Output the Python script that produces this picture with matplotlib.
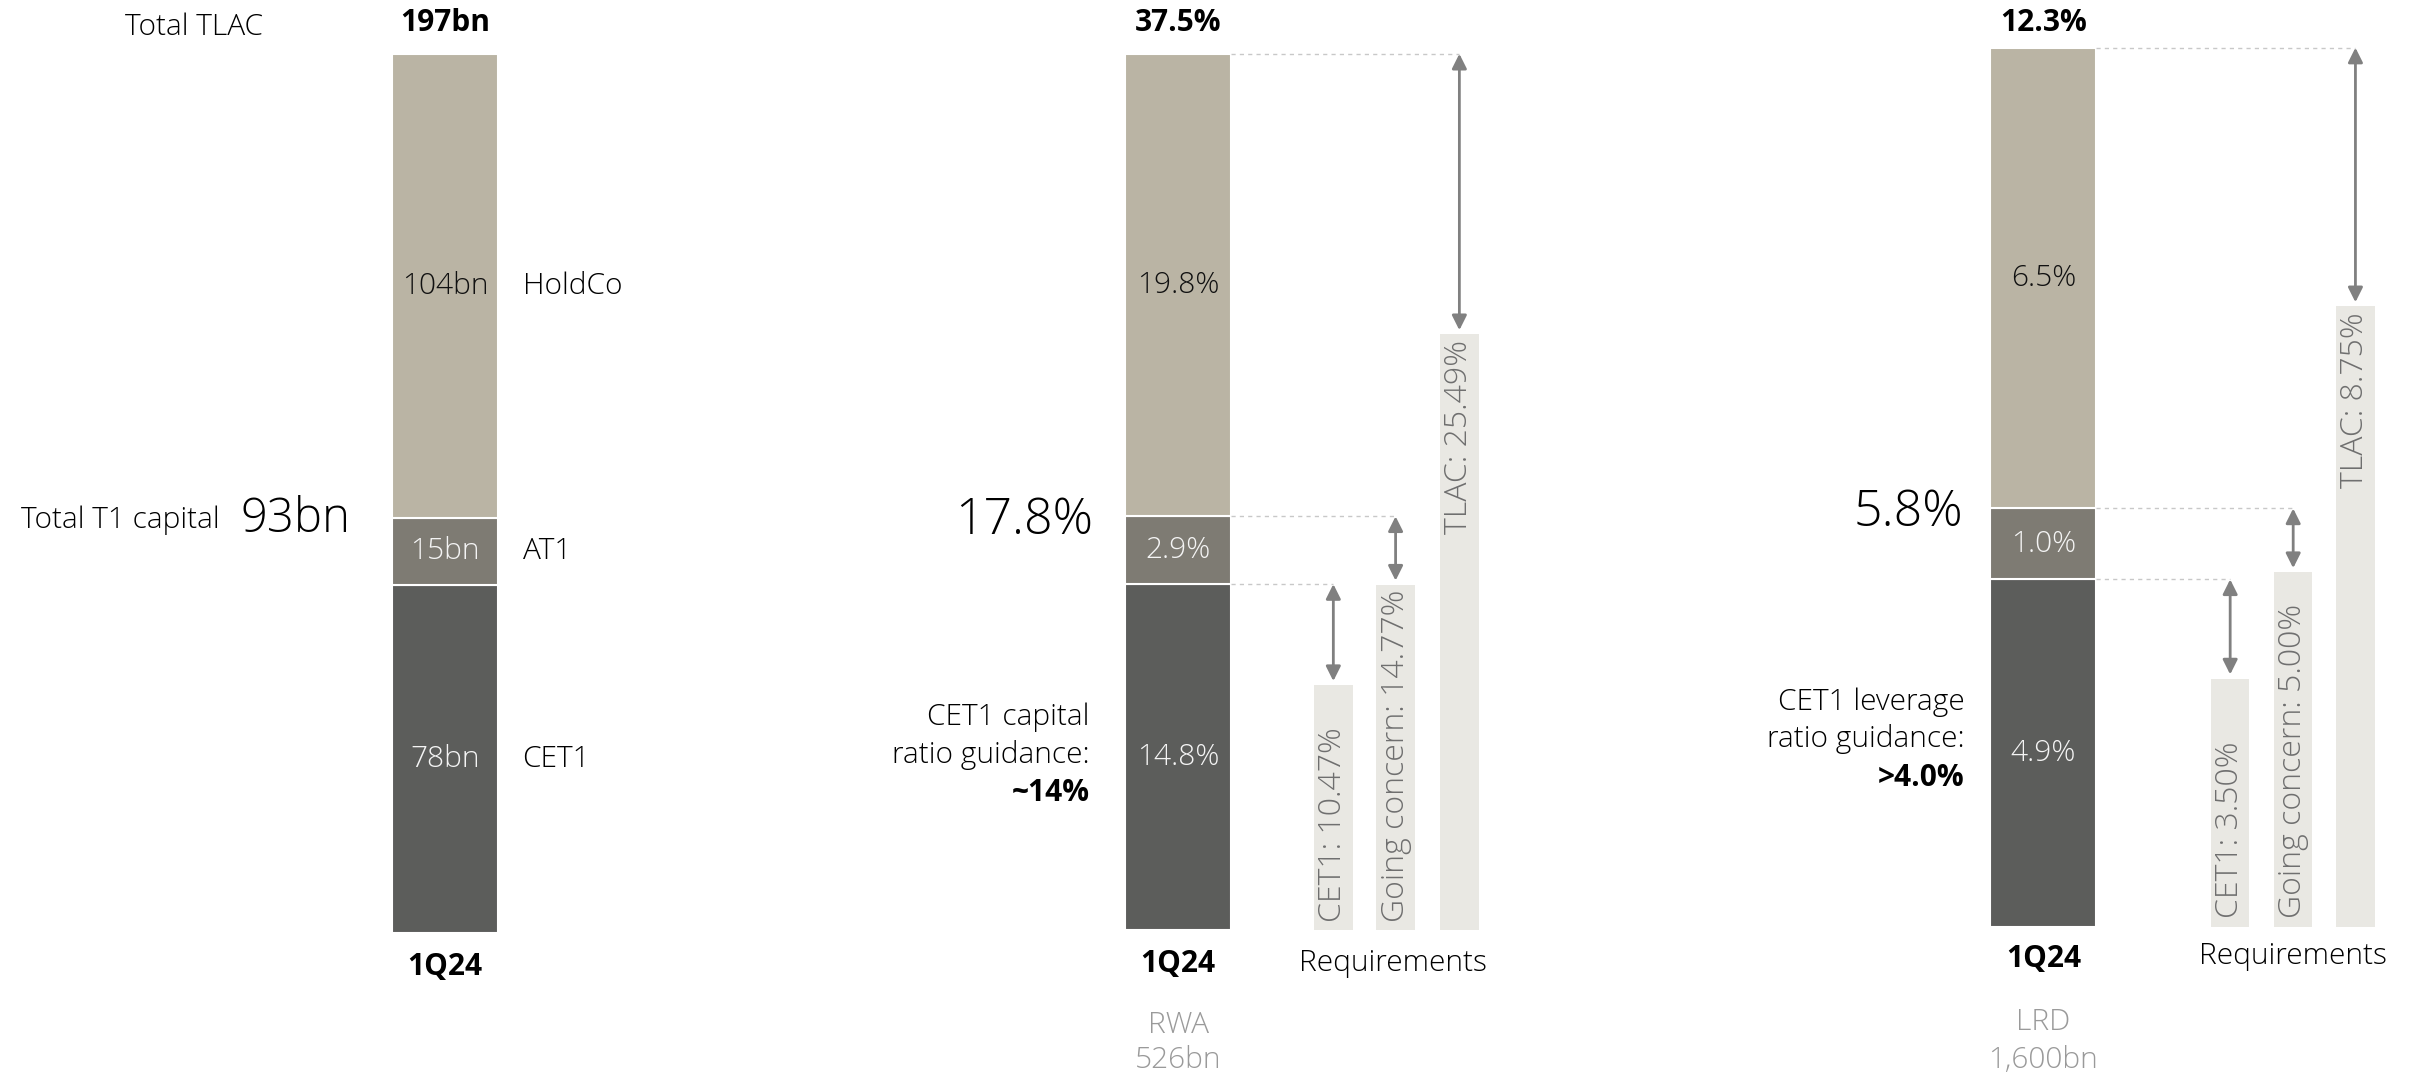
import matplotlib.pyplot as plt

plt.rcParams['font.family'] = ['Open Sans', 'DejaVu Sans']

# Left: TLAC composition (bn)
tlac_labels = ['CET1', 'AT1', 'HoldCo']
tlac_bn = [78, 15, 104]
tlac_total = 197
t1_total = 93

# Middle: ratios on RWA (%)
rwa_ratio = [14.8, 2.9, 19.8]
rwa_total = 37.5
rwa_t1 = 17.8
rwa_req = [10.47, 14.77, 25.49]
rwa_bn = 526

# Right: ratios on leverage ratio denominator (%)
lrd_ratio = [4.9, 1.0, 6.5]
lrd_total = 12.3
lrd_t1 = 5.8
lrd_req = [3.50, 5.00, 8.75]
lrd_bn = '1,600'

req_names = ['CET1', 'Going concern', 'TLAC']
period = '1Q24'

seg_colors = ['#5c5d5b', '#7e7b73', '#bab4a4']
seg_text = ['#f4f4f4', '#f4f4f4', '#111111']
req_color = '#e9e8e3'
arrow_color = '#808080'
dash_color = '#c8c8c8'
grey_text = '#9a9a9a'
req_text = '#6f6f6f'

FS = 21.5
FS_BIG = 36
FS_REQ = 23
LW = 'light'

W, H = 1568, 704
fig = plt.figure(figsize=(24.1, 10.82), dpi=100)

# overlay axes for free-standing text, in layout units (y down)
lay = fig.add_axes([0, 0, 1, 1])
lay.set_xlim(0, W)
lay.set_ylim(H, 0)
lay.axis('off')


def panel(base_px, top_px, total):
    ax = fig.add_axes([0, 0, 1, 1])
    b = 1 - base_px / H
    t = 1 - top_px / H
    k = total / (t - b)
    ax.set_xlim(0, W)
    ax.set_ylim(-b * k, (1 - b) * k)
    ax.axis('off')
    return ax


def stacked(ax, x, vals, labels, w=69):
    bottom = 0
    for v, lab, c, tc in zip(vals, labels, seg_colors, seg_text):
        ax.bar(x, v, bottom=bottom, width=w, color=c, edgecolor='white', linewidth=1.5)
        ax.text(x, bottom + v / 2, lab, ha='center', va='center', color=tc,
                fontsize=FS, fontweight=LW)
        bottom += v
    return x + w / 2


def requirements(ax, xs, reqs, levels, bar_right):
    for x, r, name, lvl in zip(xs, reqs, req_names, levels):
        ax.bar(x, r, width=25, color=req_color)
        txt = f'{name}: {r:.2f}%'
        if name == 'TLAC':
            ax.annotate(txt, (x, r), xytext=(0, -4), textcoords='offset points',
                        rotation=90, ha='center', va='top', color=req_text,
                        fontsize=FS_REQ, fontweight=LW)
        else:
            ax.annotate(txt, (x, 0), xytext=(0, 6), textcoords='offset points',
                        rotation=90, ha='center', va='bottom', color=req_text,
                        fontsize=FS_REQ, fontweight=LW)
        ax.plot([bar_right, x], [lvl, lvl], ls=(0, (3, 3)), color=dash_color, lw=1)
        ax.annotate('', xy=(x, r), xytext=(x, lvl),
                    arrowprops=dict(arrowstyle='<|-|>', color=arrow_color, lw=2,
                                    mutation_scale=22, shrinkA=0, shrinkB=3))


# ---- left panel ----
ax1 = panel(607, 35, sum(tlac_bn))
stacked(ax1, 289.5, tlac_bn, [f'{v}bn' for v in tlac_bn])
for v, lab, bottom in zip(tlac_bn, tlac_labels, [0, tlac_bn[0], tlac_bn[0] + tlac_bn[1]]):
    ax1.text(340, bottom + v / 2, lab, ha='left', va='center', fontsize=FS, fontweight=LW)
lay.text(289.5, 15, f'{tlac_total}bn', ha='center', va='center', fontsize=FS, fontweight='bold')
lay.text(126, 18, 'Total TLAC', ha='center', va='center', fontsize=FS, fontweight=LW)
ax1.annotate('Total T1 capital', (143, t1_total), xytext=(0, -2), textcoords='offset points',
             ha='right', va='center', fontsize=FS, fontweight=LW)
ax1.annotate(f'{t1_total}bn', (228, t1_total), xytext=(0, -1), textcoords='offset points',
             ha='right', va='center', fontsize=34, fontweight=LW)
lay.text(289.5, 629, period, ha='center', va='center', fontsize=FS, fontweight='bold')

# ---- middle panel ----
ax2 = panel(605, 35, sum(rwa_ratio))
right2 = stacked(ax2, 766.5, rwa_ratio, [f'{v}%' for v in rwa_ratio])
requirements(ax2, [867.5, 908, 949.5], rwa_req,
             [rwa_ratio[0], rwa_ratio[0] + rwa_ratio[1], sum(rwa_ratio)], right2)
lay.text(766.5, 15, f'{rwa_total}%', ha='center', va='center', fontsize=FS, fontweight='bold')
ax2.annotate(f'{rwa_t1}%', (711, rwa_ratio[0] + rwa_ratio[1]), xytext=(0, -3),
             textcoords='offset points', ha='right', va='center',
             fontsize=FS_BIG, fontweight=LW)
lay.text(709, 467, 'CET1 capital', ha='right', va='center', fontsize=FS, fontweight=LW)
lay.text(709, 491, 'ratio guidance:', ha='right', va='center', fontsize=FS, fontweight=LW)
lay.text(709, 516, '~14%', ha='right', va='center', fontsize=FS, fontweight='bold')
lay.text(766.5, 627, period, ha='center', va='center', fontsize=FS, fontweight='bold')
lay.text(906, 627, 'Requirements', ha='center', va='center', fontsize=FS, fontweight=LW)
lay.text(766.5, 667, 'RWA', ha='center', va='center', fontsize=FS, color=grey_text, fontweight=LW)
lay.text(766.5, 690, f'{rwa_bn}bn', ha='center', va='center', fontsize=FS, color=grey_text, fontweight=LW)

# ---- right panel ----
ax3 = panel(603, 31, sum(lrd_ratio))
right3 = stacked(ax3, 1329.5, lrd_ratio, [f'{v}%' for v in lrd_ratio])
requirements(ax3, [1451, 1492, 1532.5], lrd_req,
             [lrd_ratio[0], lrd_ratio[0] + lrd_ratio[1], sum(lrd_ratio)], right3)
lay.text(1329.5, 15, f'{lrd_total}%', ha='center', va='center', fontsize=FS, fontweight='bold')
ax3.annotate(f'{lrd_t1}%', (1277, lrd_ratio[0] + lrd_ratio[1]), xytext=(0, -3),
             textcoords='offset points', ha='right', va='center',
             fontsize=FS_BIG, fontweight=LW)
lay.text(1278, 457, 'CET1 leverage', ha='right', va='center', fontsize=FS, fontweight=LW)
lay.text(1278, 481, 'ratio guidance:', ha='right', va='center', fontsize=FS, fontweight=LW)
lay.text(1278, 506, '>4.0%', ha='right', va='center', fontsize=FS, fontweight='bold')
lay.text(1329.5, 624, period, ha='center', va='center', fontsize=FS, fontweight='bold')
lay.text(1492, 622, 'Requirements', ha='center', va='center', fontsize=FS, fontweight=LW)
lay.text(1329.5, 665, 'LRD', ha='center', va='center', fontsize=FS, color=grey_text, fontweight=LW)
lay.text(1329.5, 690, f'{lrd_bn}bn', ha='center', va='center', fontsize=FS, color=grey_text, fontweight=LW)

fig.savefig('out.png', dpi=100, facecolor='white')
